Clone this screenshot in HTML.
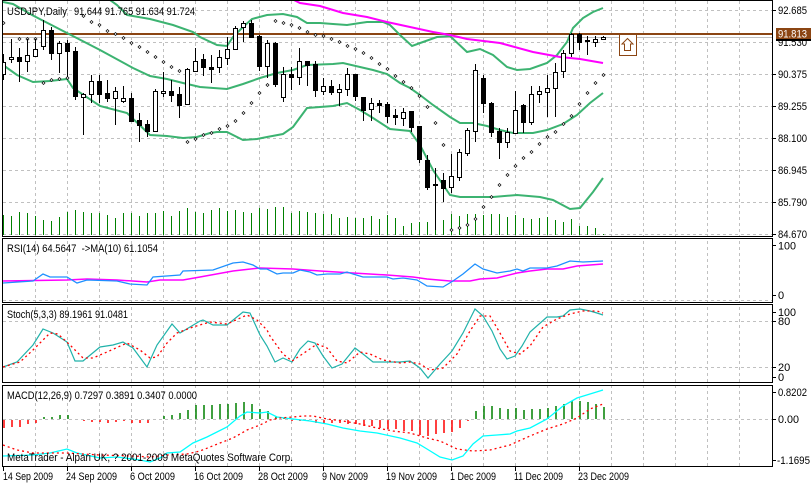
<!DOCTYPE html>
<html><head><meta charset="utf-8"><style>
html,body{margin:0;padding:0;background:#fff;}
svg{display:block;}
text{font-family:"Liberation Sans",sans-serif;font-size:11px;fill:#000;white-space:pre;}
</style></head><body>
<svg width="811" height="483" viewBox="0 0 811 483" xmlns="http://www.w3.org/2000/svg">
<defs>
<clipPath id="cm"><rect x="3" y="1" width="769" height="235"/></clipPath>
<clipPath id="cr"><rect x="3" y="239" width="769" height="63"/></clipPath>
<clipPath id="cs"><rect x="3" y="305" width="769" height="77"/></clipPath>
<clipPath id="cd"><rect x="3" y="386" width="769" height="80"/></clipPath>
</defs>
<rect width="811" height="483" fill="#fff"/>
<!-- grid -->
<g stroke="#c0c0c0" stroke-width="1" stroke-dasharray="3,3" fill="none">
<path d="M35.5 1V466M67.5 1V466M99.5 1V466M131.5 1V466M163.5 1V466M195.5 1V466M227.5 1V466M259.5 1V466M291.5 1V466M323.5 1V466M355.5 1V466M387.5 1V466M419.5 1V466M451.5 1V466M483.5 1V466M515.5 1V466M547.5 1V466M579.5 1V466M611.5 1V466M643.5 1V466M675.5 1V466M707.5 1V466M739.5 1V466"/>
<path d="M3 10.5H772M3 42.5H772M3 74.5H772M3 106.5H772M3 138.5H772M3 170.5H772M3 202.5H772M3 234.5H772M3 300.5H772M3 321.5H772M3 367.5H772M3 419.5H772"/>
</g>
<rect x="3" y="237" width="769" height="1" fill="#fff"/>
<rect x="3" y="303" width="769" height="1" fill="#fff"/>
<rect x="3" y="383" width="769" height="2" fill="#fff"/>

<!-- main panel -->
<g clip-path="url(#cm)">
<path fill="none" stroke="#008000" stroke-width="1" d="M3.5 235V215M11.5 235V216M19.5 235V212M27.5 235V213M35.5 235V216M43.5 235V220M51.5 235V221M59.5 235V217M67.5 235V212M75.5 235V210M83.5 235V212M91.5 235V213M99.5 235V213M107.5 235V215M115.5 235V218M123.5 235V213M131.5 235V213M139.5 235V216M147.5 235V213M155.5 235V213M163.5 235V211M171.5 235V216M179.5 235V211M187.5 235V208M195.5 235V212M203.5 235V213M211.5 235V210M219.5 235V208M227.5 235V211M235.5 235V210M243.5 235V212M251.5 235V213M259.5 235V208M267.5 235V209M275.5 235V207M283.5 235V207M291.5 235V213M299.5 235V211M307.5 235V212M315.5 235V213M323.5 235V214M331.5 235V214M339.5 235V218M347.5 235V217M355.5 235V218M363.5 235V218M371.5 235V216M379.5 235V219M387.5 235V215M395.5 235V218M403.5 235V226M411.5 235V223M419.5 235V222M427.5 235V222M435.5 235V218M443.5 235V220M451.5 235V214M459.5 235V216M467.5 235V214M475.5 235V214M483.5 235V215M491.5 235V214M499.5 235V214M507.5 235V217M515.5 235V215M523.5 235V218M531.5 235V219M539.5 235V218M547.5 235V217M555.5 235V220M563.5 235V222M571.5 235V219M579.5 235V226M587.5 235V226M595.5 235V228M603.5 235V234"/>
<line x1="3" y1="37.5" x2="772" y2="37.5" stroke="#c0c0c0" stroke-width="1"/>
<line x1="3" y1="34" x2="772" y2="34" stroke="#8b4513" stroke-width="2"/>
<g fill="none" stroke="#3cb371" stroke-width="2">
<polyline points="3,-20 100,-5 110,0 117,5 127,15 150,19 173,25 193,32 200,37 217,45 227,46 233,37 243,27 252,19 267,15 283,14 297,17 307,23 320,23 333,24 347,25 360,23 367,22 383,22 390,25 400,35 412,46 423,42 437,37 450,36 467,52 480,49 493,55 507,67 517,70 530,69 547,63 557,55 567,42 573,28 583,18 593,12 603,8"/>
<polyline points="3,2 13,4 32,15 67,33 100,50 133,68 150,76 167,79 183,83 200,87 227,89 243,84 260,78 277,73 293,70 307,65 333,64 343,63 360,67 373,70 387,74 400,83 410,88 420,95 433,105 450,117 460,123 473,123 487,126 500,130 513,133 533,133 547,130 563,124 577,115 590,103 603,93"/>
<polyline points="3,65 17,75 33,82 50,81 67,79 73,88 100,106 127,113 150,135 167,136 183,138 197,137 210,133 217,132 227,132 243,140 257,139 267,137 283,134 293,127 307,108 333,106 347,103 360,110 373,118 390,129 410,131 420,145 433,170 450,195 460,197 493,197 517,195 540,197 553,200 570,209 580,208 593,192 603,178"/>
</g>
<polyline fill="none" stroke="#ff00ff" stroke-width="2" points="290,-2 300,3 320,6 343,13 367,17 387,22 410,27 433,32 450,35 467,39 500,43 533,52 560,57 580,59 603,63"/>
<path fill="#fff" stroke="#000" stroke-width="0.7" d="M3.5 21.5l1.5 1.5-1.5 1.5-1.5-1.5zM19.5 37.5l1.5 1.5-1.5 1.5-1.5-1.5zM27.5 37.5l1.5 1.5-1.5 1.5-1.5-1.5zM35.5 37.5l1.5 1.5-1.5 1.5-1.5-1.5zM43.5 81.5l1.5 1.5-1.5 1.5-1.5-1.5zM51.5 78.5l1.5 1.5-1.5 1.5-1.5-1.5zM59.5 77.5l1.5 1.5-1.5 1.5-1.5-1.5zM67.5 76.5l1.5 1.5-1.5 1.5-1.5-1.5zM83.5 14.5l1.5 1.5-1.5 1.5-1.5-1.5zM91.5 20.5l1.5 1.5-1.5 1.5-1.5-1.5zM99.5 23.5l1.5 1.5-1.5 1.5-1.5-1.5zM107.5 29.5l1.5 1.5-1.5 1.5-1.5-1.5zM115.5 32.5l1.5 1.5-1.5 1.5-1.5-1.5zM123.5 36.5l1.5 1.5-1.5 1.5-1.5-1.5zM131.5 41.5l1.5 1.5-1.5 1.5-1.5-1.5zM139.5 45.5l1.5 1.5-1.5 1.5-1.5-1.5zM147.5 50.5l1.5 1.5-1.5 1.5-1.5-1.5zM155.5 55.5l1.5 1.5-1.5 1.5-1.5-1.5zM163.5 60.5l1.5 1.5-1.5 1.5-1.5-1.5zM171.5 65.5l1.5 1.5-1.5 1.5-1.5-1.5zM179.5 69.5l1.5 1.5-1.5 1.5-1.5-1.5zM187.5 140.5l1.5 1.5-1.5 1.5-1.5-1.5zM195.5 137.5l1.5 1.5-1.5 1.5-1.5-1.5zM203.5 133.5l1.5 1.5-1.5 1.5-1.5-1.5zM211.5 131.5l1.5 1.5-1.5 1.5-1.5-1.5zM219.5 127.5l1.5 1.5-1.5 1.5-1.5-1.5zM227.5 124.5l1.5 1.5-1.5 1.5-1.5-1.5zM235.5 119.5l1.5 1.5-1.5 1.5-1.5-1.5zM243.5 111.5l1.5 1.5-1.5 1.5-1.5-1.5zM251.5 101.5l1.5 1.5-1.5 1.5-1.5-1.5zM259.5 91.5l1.5 1.5-1.5 1.5-1.5-1.5zM267.5 83.5l1.5 1.5-1.5 1.5-1.5-1.5zM275.5 19.5l1.5 1.5-1.5 1.5-1.5-1.5zM283.5 21.5l1.5 1.5-1.5 1.5-1.5-1.5zM291.5 23.5l1.5 1.5-1.5 1.5-1.5-1.5zM299.5 26.5l1.5 1.5-1.5 1.5-1.5-1.5zM307.5 30.5l1.5 1.5-1.5 1.5-1.5-1.5zM315.5 33.5l1.5 1.5-1.5 1.5-1.5-1.5zM323.5 34.5l1.5 1.5-1.5 1.5-1.5-1.5zM331.5 37.5l1.5 1.5-1.5 1.5-1.5-1.5zM339.5 40.5l1.5 1.5-1.5 1.5-1.5-1.5zM347.5 44.5l1.5 1.5-1.5 1.5-1.5-1.5zM355.5 47.5l1.5 1.5-1.5 1.5-1.5-1.5zM363.5 51.5l1.5 1.5-1.5 1.5-1.5-1.5zM371.5 56.5l1.5 1.5-1.5 1.5-1.5-1.5zM379.5 62.5l1.5 1.5-1.5 1.5-1.5-1.5zM387.5 67.5l1.5 1.5-1.5 1.5-1.5-1.5zM395.5 74.5l1.5 1.5-1.5 1.5-1.5-1.5zM403.5 80.5l1.5 1.5-1.5 1.5-1.5-1.5zM411.5 86.5l1.5 1.5-1.5 1.5-1.5-1.5zM419.5 94.5l1.5 1.5-1.5 1.5-1.5-1.5zM427.5 105.5l1.5 1.5-1.5 1.5-1.5-1.5zM435.5 121.5l1.5 1.5-1.5 1.5-1.5-1.5zM443.5 143.5l1.5 1.5-1.5 1.5-1.5-1.5zM451.5 228.5l1.5 1.5-1.5 1.5-1.5-1.5zM459.5 226.5l1.5 1.5-1.5 1.5-1.5-1.5zM467.5 223.5l1.5 1.5-1.5 1.5-1.5-1.5zM475.5 217.5l1.5 1.5-1.5 1.5-1.5-1.5zM483.5 205.5l1.5 1.5-1.5 1.5-1.5-1.5zM491.5 195.5l1.5 1.5-1.5 1.5-1.5-1.5zM499.5 183.5l1.5 1.5-1.5 1.5-1.5-1.5zM507.5 173.5l1.5 1.5-1.5 1.5-1.5-1.5zM515.5 164.5l1.5 1.5-1.5 1.5-1.5-1.5zM523.5 156.5l1.5 1.5-1.5 1.5-1.5-1.5zM531.5 150.5l1.5 1.5-1.5 1.5-1.5-1.5zM539.5 142.5l1.5 1.5-1.5 1.5-1.5-1.5zM547.5 135.5l1.5 1.5-1.5 1.5-1.5-1.5zM555.5 130.5l1.5 1.5-1.5 1.5-1.5-1.5zM563.5 122.5l1.5 1.5-1.5 1.5-1.5-1.5zM571.5 114.5l1.5 1.5-1.5 1.5-1.5-1.5zM579.5 102.5l1.5 1.5-1.5 1.5-1.5-1.5zM587.5 91.5l1.5 1.5-1.5 1.5-1.5-1.5zM595.5 81.5l1.5 1.5-1.5 1.5-1.5-1.5zM603.5 73.5l1.5 1.5-1.5 1.5-1.5-1.5z"/>
<path fill="none" stroke="#000" stroke-width="1" d="M3.5 54V80M11.5 39V63M19.5 48V82M27.5 39V72M35.5 39V56M43.5 20V50M51.5 27V60M59.5 41V73M67.5 40V77M75.5 47V100M83.5 93V135M91.5 75V103M99.5 75V103M107.5 80V102M115.5 87V125M123.5 86V103M131.5 93V122M139.5 113V142M147.5 120V137M155.5 89V132M163.5 72V97M171.5 80V102M179.5 87V118M187.5 68V105M195.5 48V72M203.5 54V76M211.5 55V83M219.5 50V73M227.5 37V65M235.5 26V50M243.5 21V42M251.5 20V38M259.5 35V71M267.5 40V78M275.5 42V87M283.5 67V102M291.5 67V90M299.5 48V85M307.5 61V86M315.5 61V97M323.5 78V95M331.5 80V95M339.5 84V106M347.5 68V96M355.5 74V101M363.5 97V121M371.5 98V121M379.5 100V113M387.5 102V123M395.5 109V125M403.5 108V126M411.5 111V132M419.5 126V163M427.5 155V190M435.5 168V230M443.5 173V202M451.5 154V193M459.5 149V181M467.5 128V156M475.5 64V142M483.5 75V113M491.5 102V137M499.5 128V159M507.5 128V148M515.5 91V134M523.5 104V133M531.5 86V125M539.5 86V103M547.5 75V117M555.5 63V117M563.5 50V78M571.5 33V57M579.5 33V50M587.5 36V55M595.5 36V47M603.5 36V39"/>
<path fill="#fff" stroke="#000" stroke-width="1" d="M1.5 62.5h4v12h-4zM9.5 57.5h4v2h-4zM25.5 55.5h4v6h-4zM33.5 49.5h4v7h-4zM41.5 30.5h4v16h-4zM57.5 43.5h4v10h-4zM81.5 94.5h4v3h-4zM89.5 81.5h4v13h-4zM113.5 91.5h4v7h-4zM121.5 98.5h4v3h-4zM153.5 91.5h4v40h-4zM161.5 91.5h4v2h-4zM185.5 69.5h4v35h-4zM193.5 61.5h4v10h-4zM217.5 57.5h4v10h-4zM225.5 49.5h4v9h-4zM233.5 28.5h4v21h-4zM241.5 23.5h4v4h-4zM265.5 43.5h4v23h-4zM281.5 74.5h4v23h-4zM297.5 61.5h4v16h-4zM321.5 86.5h4v5h-4zM337.5 89.5h4v3h-4zM345.5 74.5h4v15h-4zM369.5 103.5h4v6h-4zM401.5 112.5h4v6h-4zM449.5 176.5h4v11h-4zM457.5 152.5h4v25h-4zM465.5 130.5h4v23h-4zM473.5 70.5h4v61h-4zM505.5 132.5h4v10h-4zM513.5 110.5h4v23h-4zM529.5 94.5h4v28h-4zM537.5 91.5h4v3h-4zM545.5 88.5h4v4h-4zM553.5 72.5h4v16h-4zM561.5 53.5h4v18h-4zM569.5 34.5h4v19h-4zM593.5 39.5h4v3h-4zM601.5 37.5h4v2h-4z"/>
<path fill="#000" stroke="#000" stroke-width="1" d="M17.5 57.5h4v4h-4zM49.5 30.5h4v23h-4zM65.5 43.5h4v8h-4zM73.5 51.5h4v45h-4zM97.5 81.5h4v13h-4zM105.5 93.5h4v5h-4zM129.5 98.5h4v23h-4zM137.5 120.5h4v5h-4zM145.5 124.5h4v7h-4zM169.5 91.5h4v4h-4zM177.5 94.5h4v11h-4zM201.5 59.5h4v8h-4zM209.5 67.5h4v2h-4zM249.5 23.5h4v14h-4zM257.5 36.5h4v30h-4zM273.5 43.5h4v41h-4zM289.5 74.5h4v3h-4zM305.5 61.5h4v4h-4zM313.5 64.5h4v26h-4zM329.5 86.5h4v6h-4zM353.5 74.5h4v22h-4zM361.5 97.5h4v13h-4zM377.5 103.5h4v2h-4zM385.5 104.5h4v12h-4zM393.5 115.5h4v2h-4zM409.5 111.5h4v16h-4zM417.5 126.5h4v33h-4zM425.5 160.5h4v27h-4zM433.5 184.5h4v1h-4zM441.5 180.5h4v8h-4zM481.5 78.5h4v25h-4zM489.5 103.5h4v29h-4zM497.5 131.5h4v11h-4zM521.5 105.5h4v17h-4zM577.5 34.5h4v8h-4zM585.5 40.5h4v1h-4z"/>
<rect x="619.5" y="34.5" width="17" height="21" fill="#fff" stroke="#8b4513" stroke-width="1"/>
<path d="M627.5 38.5L633 44H630.5V50.5H624.5V44H622Z" fill="none" stroke="#8b4513" stroke-width="1"/>
</g>

<!-- RSI -->
<g clip-path="url(#cr)" fill="none">
<polyline stroke="#ff00ff" stroke-width="1.5" points="3,281 67,280 87,279 117,280 147,282 160,280 183,280 200,277 233,271 260,268 293,269 320,271 353,273 387,275 413,277 427,279 450,281 470,281 480,279 497,278 517,273 530,271 547,269 563,269 577,266 603,264"/>
<polyline stroke="#1e90ff" stroke-width="1.3" points="3,283 33,281 43,274 50,277 67,277 77,283 87,280 117,281 130,284 147,285 153,277 180,275 183,271 213,270 233,263 243,262 253,265 260,269 267,269 277,274 283,273 293,273 300,270 310,272 317,275 327,274 340,274 347,272 353,274 363,277 387,277 393,279 403,278 417,280 427,286 443,287 453,281 463,274 475,264 483,269 497,273 510,271 517,269 523,271 530,268 547,268 557,266 570,261 583,262 603,261"/>
</g>

<!-- Stoch -->
<g clip-path="url(#cs)" fill="none">
<polyline stroke="#20b2aa" stroke-width="1.2" points="3,367 17,362 33,345 43,329 53,333 67,342 75,361 83,361 100,347 113,345 123,342 133,348 147,367 157,345 172,324 180,333 200,321 203,320 213,325 227,325 243,312 250,313 260,335 267,346 275,362 283,358 292,362 300,349 308,341 315,343 323,356 332,368 342,364 355,348 363,354 373,362 387,362 400,362 410,361 420,368 428,378 440,364 452,351 463,333 475,309 483,316 492,331 500,349 507,359 515,356 522,346 530,332 547,317 557,317 563,316 570,310 580,309 590,311 597,313 603,315"/>
<polyline stroke="#ff0000" stroke-width="1.3" stroke-dasharray="2,3" points="3,367 20,362 33,350 50,333 58,334 70,345 83,358 93,358 107,352 127,343 140,350 150,358 157,357 167,343 177,333 193,327 210,322 227,324 247,315 257,320 267,330 270,336 283,354 292,361 307,351 317,344 327,348 337,361 347,363 360,352 370,354 383,360 400,363 410,362 420,364 430,370 443,368 457,354 470,331 480,316 490,316 500,333 510,351 520,354 530,346 543,327 557,319 570,314 583,311 597,311 603,313"/>
</g>

<!-- MACD -->
<g clip-path="url(#cd)" fill="none">
<path stroke="#ff0000" stroke-width="1.5" d="M4 420V428M12 420V427M20 420V427M28 420V424M36 420V423M84 420V421M92 420V422M100 420V422M108 420V423M116 420V422M124 420V421M132 420V423M140 420V423M148 420V423M292 420V421M300 420V421M308 420V421M316 420V423M324 420V423M332 420V423M340 420V423M348 420V424M356 420V424M364 420V426M372 420V426M380 420V428M388 420V429M396 420V429M404 420V431M412 420V431M420 420V435M428 420V436M436 420V434M444 420V433M452 420V432M460 420V428M468 420V421"/>
<path stroke="#008000" stroke-width="1.5" d="M44 419V417M52 419V417M60 419V415M68 419V415M164 419V416M172 419V415M180 419V413M188 419V410M196 419V405M204 419V405M212 419V405M220 419V404M228 419V404M236 419V403M244 419V402M252 419V404M260 419V409M268 419V411M276 419V416M284 419V418M476 419V411M484 419V406M492 419V406M500 419V408M508 419V409M516 419V408M524 419V410M532 419V409M540 419V409M548 419V408M556 419V406M564 419V404M572 419V401M580 419V401M588 419V402M596 419V404M604 419V407"/>
<polyline stroke="#00ffff" stroke-width="1.3" points="3,456 33,455 50,453 67,449 77,453 100,458 117,457 140,460 150,462 160,458 167,453 180,452 193,443 207,437 227,427 240,416 247,412 260,413 267,412 277,417 293,419 310,421 327,424 343,428 360,431 377,433 400,438 417,443 427,449 440,457 452,460 463,456 473,444 483,436 497,435 510,434 517,431 530,428 547,419 563,406 577,398 590,394 603,390"/>
<polyline stroke="#ff0000" stroke-width="1.3" stroke-dasharray="2,3" points="3,445 17,450 33,453 67,453 83,454 100,455 133,456 150,457 167,455 187,454 200,451 220,443 233,438 247,430 260,425 270,420 280,418 293,417 303,416 313,416 327,419 343,421 360,424 377,428 393,431 410,433 427,438 440,441 457,449 473,451 490,450 510,445 530,436 547,429 563,424 577,418 590,409 603,404"/>
</g>

<!-- panel borders -->
<g fill="none" stroke="#000" stroke-width="1">
<rect x="2.5" y="0.5" width="770" height="236"/>
<rect x="2.5" y="238.5" width="770" height="64"/>
<rect x="2.5" y="304.5" width="770" height="78"/>
<rect x="2.5" y="385.5" width="770" height="81"/>
<path d="M3.5 466V471M67.5 466V471M131.5 466V471M195.5 466V471M259.5 466V471M323.5 466V471M387.5 466V471M451.5 466V471M515.5 466V471M579.5 466V471"/>
<path d="M773 10.5h3M773 74.5h3M773 106.5h3M773 138.5h3M773 170.5h3M773 202.5h3M773 234.5h3M773 245.5h3M773 295.5h3M773 312.5h3M773 321.5h3M773 367.5h3M773 377.5h3M773 392.5h3M773 419.5h3M773 460.5h3"/>
</g>

<!-- panel titles -->
<text x="7" y="15" textLength="60" lengthAdjust="spacingAndGlyphs">USDJPY,Daily</text>
<text x="74" y="15" textLength="121" lengthAdjust="spacingAndGlyphs">91.644 91.765 91.634 91.724</text>
<text x="7" y="252" textLength="151" lengthAdjust="spacingAndGlyphs">RSI(14) 64.5647  -&gt;MA(10) 61.1054</text>
<text x="7" y="318" textLength="121" lengthAdjust="spacingAndGlyphs">Stoch(5,3,3) 89.1961 91.0481</text>
<text x="7" y="399" textLength="190" lengthAdjust="spacingAndGlyphs">MACD(12,26,9) 0.7297 0.3891 0.3407 0.0000</text>
<text x="7" y="461" textLength="286" lengthAdjust="spacingAndGlyphs">MetaTrader - Alpari UK, ? 2001-2009 MetaQuotes Software Corp.</text>

<!-- right axis -->
<text x="778" y="14" textLength="29" lengthAdjust="spacingAndGlyphs">92.685</text>
<text x="778" y="46" textLength="29" lengthAdjust="spacingAndGlyphs">91.530</text>
<rect x="776" y="38.5" width="35" height="2.5" fill="#000"/>
<rect x="776" y="28" width="35" height="11" fill="#8b4513"/>
<text x="778" y="37.5" textLength="29" lengthAdjust="spacingAndGlyphs" style="fill:#fff">91.813</text>
<text x="778" y="78" textLength="29" lengthAdjust="spacingAndGlyphs">90.375</text>
<text x="778" y="110" textLength="29" lengthAdjust="spacingAndGlyphs">89.255</text>
<text x="778" y="142" textLength="29" lengthAdjust="spacingAndGlyphs">88.100</text>
<text x="778" y="174" textLength="29" lengthAdjust="spacingAndGlyphs">86.945</text>
<text x="778" y="206" textLength="29" lengthAdjust="spacingAndGlyphs">85.790</text>
<text x="778" y="238" textLength="29" lengthAdjust="spacingAndGlyphs">84.670</text>
<text x="778" y="249.5" textLength="18" lengthAdjust="spacingAndGlyphs">100</text>
<text x="778" y="299">0</text>
<text x="778" y="316" textLength="18" lengthAdjust="spacingAndGlyphs">100</text>
<text x="778" y="325">80</text>
<text x="778" y="371">20</text>
<text x="778" y="381">0</text>
<text x="778" y="396" textLength="29" lengthAdjust="spacingAndGlyphs">0.8202</text>
<text x="778" y="423" textLength="21" lengthAdjust="spacingAndGlyphs">0.00</text>
<text x="777" y="464" textLength="33" lengthAdjust="spacingAndGlyphs">-1.1695</text>

<!-- time axis -->
<text x="3" y="480" textLength="50" lengthAdjust="spacingAndGlyphs">14 Sep 2009</text>
<text x="66" y="480" textLength="51" lengthAdjust="spacingAndGlyphs">24 Sep 2009</text>
<text x="130" y="480" textLength="45" lengthAdjust="spacingAndGlyphs">6 Oct 2009</text>
<text x="194" y="480" textLength="49" lengthAdjust="spacingAndGlyphs">16 Oct 2009</text>
<text x="258" y="480" textLength="50" lengthAdjust="spacingAndGlyphs">28 Oct 2009</text>
<text x="322" y="480" textLength="46" lengthAdjust="spacingAndGlyphs">9 Nov 2009</text>
<text x="386" y="480" textLength="51" lengthAdjust="spacingAndGlyphs">19 Nov 2009</text>
<text x="450" y="480" textLength="46" lengthAdjust="spacingAndGlyphs">1 Dec 2009</text>
<text x="514" y="480" textLength="49" lengthAdjust="spacingAndGlyphs">11 Dec 2009</text>
<text x="578" y="480" textLength="51" lengthAdjust="spacingAndGlyphs">23 Dec 2009</text>
</svg>
</body></html>
